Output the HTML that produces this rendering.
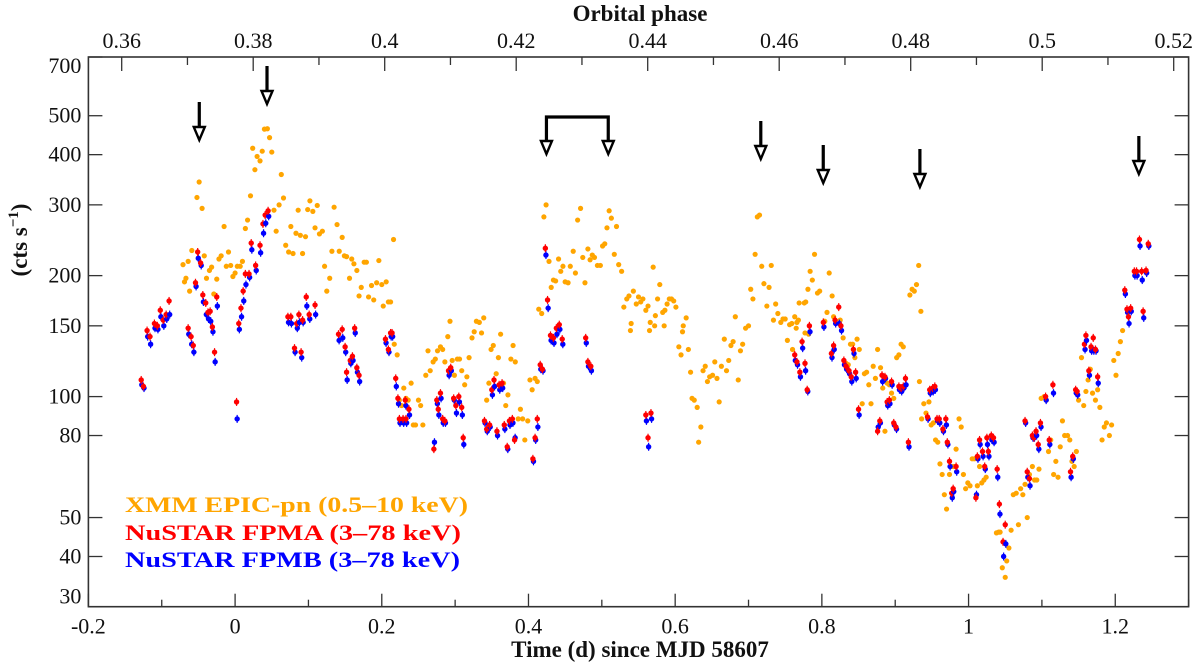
<!DOCTYPE html>
<html><head><meta charset="utf-8">
<style>
html,body{margin:0;padding:0;background:#fff;}
svg{display:block;}
text{font-family:"Liberation Serif","DejaVu Serif",serif;}
</style></head>
<body>
<svg id="chart" width="1200" height="667" viewBox="0 0 1200 667" xmlns="http://www.w3.org/2000/svg" style="position:absolute;left:0;top:0">
<g id="marks"></g>
<g id="axes"></g>
</svg>
<script>
// ---- data ----
const xmmTime = [-0.071,-0.069,-0.067,-0.064,-0.062,-0.059,-0.052,-0.049,-0.045,-0.042,-0.039,-0.035,-0.032,-0.029,-0.025,-0.022,-0.019,-0.015,-0.012,-0.009,-0.006,-0.003,0.0,0.003,0.007,0.01,0.014,0.017,0.021,0.024,0.027,0.03,0.034,0.037,0.04,0.044,0.047,0.05,0.053,0.056,0.06,0.063,0.066,0.069,0.073,0.076,0.079,0.083,0.086,0.089,0.092,0.096,0.099,0.102,0.106,0.109,0.112,0.115,0.119,0.122,0.125,0.129,0.132,0.135,0.139,0.142,0.146,0.149,0.152,0.156,0.159,0.162,0.166,0.169,0.172,0.176,0.179,0.182,0.186,0.189,0.193,0.196,0.2,0.202,0.206,0.209,0.212,0.216,
0.217,0.221,0.224,0.227,0.23,0.233,0.236,0.24,0.243,0.246,0.25,0.253,0.256,0.26,0.263,0.266,0.27,0.273,0.276,0.28,0.283,0.286,0.29,0.293,0.296,0.299,0.303,0.306,0.309,0.313,0.316,0.319,0.323,0.326,0.329,0.333,0.336,0.339,0.343,0.346,0.349,0.352,0.356,0.359,0.362,0.366,0.369,0.372,0.376,0.379,0.382,0.386,0.389,0.392,0.395,0.399,0.402,0.405,0.409,0.412,
0.414,0.418,0.421,0.424,0.428,0.431,0.434,0.437,0.441,0.444,0.447,0.45,0.454,0.457,0.461,0.464,0.467,0.471,0.474,0.477,0.481,0.484,0.487,0.49,0.494,0.498,0.501,0.504,0.507,0.51,0.513,0.517,0.52,0.523,0.527,0.53,0.534,0.537,0.54,0.543,0.547,0.55,0.553,0.556,0.56,0.563,0.566,0.57,0.573,0.576,0.579,0.583,0.586,0.589,0.592,0.595,0.598,0.601,0.611,0.615,
0.539,0.565,0.572,0.585,0.605,0.608,0.61,0.618,0.621,0.623,0.626,0.63,0.632,0.635,0.638,0.641,0.644,0.647,0.651,0.654,0.657,0.66,0.663,0.667,0.67,0.673,0.676,0.679,0.682,0.686,0.689,0.692,0.696,
0.7,0.703,0.706,0.709,0.712,0.715,0.718,0.721,0.725,0.728,0.731,0.734,0.737,0.74,0.744,0.747,0.75,0.753,0.756,0.76,0.765,0.768,0.777,0.782,0.759,0.763,0.766,0.769,0.776,0.778,0.781,0.784,0.787,0.79,0.794,0.797,0.804,0.807,0.81,0.814,0.816,
0.825,0.829,0.833,0.836,0.839,0.842,0.845,0.848,0.851,0.855,0.858,0.861,0.864,0.867,0.87,0.873,0.876,0.88,0.883,0.886,0.889,0.892,0.895,0.898,0.902,0.905,0.908,0.911,0.92,0.923,0.926,0.929,0.932,0.935,
0.933,0.936,0.939,0.942,0.946,0.949,0.952,0.955,0.958,0.961,0.964,0.967,0.97,0.974,0.977,0.98,0.983,0.987,0.99,0.993,0.996,0.999,1.002,1.005,1.008,1.012,1.015,1.018,1.021,1.024,1.038,1.041,1.043,1.046,1.05,1.052,1.055,1.058,1.061,1.065,1.068,1.071,1.074,1.077,1.08,1.083,1.087,1.09,1.093,1.096,1.099,1.103,1.106,1.109,1.112,1.116,1.119,1.122,1.125,1.128,1.131,1.135,1.138,1.141,1.144,1.147,1.15,1.154,1.157,1.16,1.163,1.166,1.169,1.173,1.176,1.179,1.182,1.185,1.188,1.192,1.195,1.198,1.201,1.204,1.207,1.21];
const xmmRate = [213,193,197,217,183,231,313,342,294,224,197,206,210,180,196,220,224,265,211,229,212,199,203,211,211,217,262,275,316,415,367,396,386,408,463,464,441,406,291,258,300,357,312,238,229,265,227,255,291,252,227,250,292,307,289,263,299,254,258,211,183,197,230,296,268,230,249,224,223,197,220,214,206,178,187,216,216,177,189,174,192,218,190,168,193,172,172,246,
135,127,98,95,105,99,98,108,85,85,98,95,85,113,130,116,122,124,130,133,131,122,141,154,123,113,124,124,116,107,112,125,140,145,154,153,144,157,98,108,131,134,114,125,143,108,95,101,124,134,122,88,93,88,78,87,110,104,111,109,
165,161,280,300,217,187,195,194,220,205,211,193,192,211,230,203,275,294,222,192,233,219,225,222,212,212,237,240,263,290,278,226,265,213,205,167,175,178,152,183,170,177,172,175,164,168,153,210,159,175,190,162,164,170,175,175,173,167,150,157,
146,146,150,150,133,127,145,131,115,99,98,94,77,84,116,119,109,112,113,122,111,97,119,139,116,123,134,137,158,110,130,135,148,
150,185,175,226,280,283,211,191,168,187,212,155,170,161,153,156,156,138,151,131,148,155,144,143,152,158,153,171,171,172,185,205,195,226,181,183,154,162,203,178,158,
155,140,121,120,135,135,125,139,131,96,114,115,107,96,119,111,131,118,105,82,108,107,102,99,125,127,135,133,179,185,183,190,212,163,
109,88,96,91,97,85,86,78,77,68,64,57,52.5,64,67,67,74,88,84,64,59,61,60,70,70,60,67,61,62,63,45.8,46,46,37.5,35.5,39,42,46.5,57,57.5,48,59,57,60.5,50,64,67,62,62,66,99,100,98,73,78,64,69,63,75,87,80,80,78,69,67,73,98,125,95,103,110,117,102,98,104,94,78,84,86,80,85,123,113,128,137,146];
const nuTime = [-0.128,-0.125,-0.12,-0.116,-0.11,-0.106,-0.102,-0.098,-0.094,-0.09,-0.064,-0.06,-0.057,-0.054,-0.051,-0.047,-0.044,-0.04,-0.037,-0.034,-0.031,-0.028,-0.025,0.002,0.005,0.008,0.011,0.014,0.019,0.022,0.028,0.034,0.038,0.041,0.045,0.072,0.076,0.081,0.084,0.087,0.09,0.092,0.097,0.101,0.109,0.141,0.146,0.15,0.152,0.157,0.16,0.163,0.166,0.169,0.205,0.209,0.212,0.214,0.219,0.222,0.224,0.229,0.232,0.233,0.237,0.271,0.275,0.277,0.28,0.283,0.286,0.291,0.294,0.298,0.301,0.305,0.309,0.311,0.34,0.343,0.347,0.35,0.353,0.357,0.36,0.364,0.367,0.371,0.374,0.378,0.381,0.406,0.409,0.412,0.416,0.419,0.423,0.426,0.43,0.434,0.438,0.442,0.446,0.478,0.481,0.485,0.56,0.563,0.567,0.763,0.766,0.77,0.773,0.777,0.78,0.783,0.802,0.813,0.816,0.818,0.823,0.826,0.83,0.833,0.837,0.84,0.843,0.846,0.85,0.876,0.879,0.882,0.886,0.889,0.892,0.895,0.898,0.901,0.905,0.908,0.911,0.914,0.918,0.944,0.947,0.951,0.954,0.957,0.96,0.965,0.969,0.971,0.974,0.977,0.979,0.983,1.01,1.012,1.015,1.019,1.022,1.025,1.027,1.031,1.034,1.039,1.042,1.047,1.05,1.077,1.08,1.083,1.087,1.089,1.092,1.095,1.098,1.105,1.11,1.115,1.139,1.142,1.146,1.148,1.158,1.16,1.164,1.167,1.17,1.173,1.176,1.213,1.216,1.218,1.221,1.226,1.229,1.233,1.236,1.238,1.242,1.245];
const fpmaRate = [110,106,146,141,152,150,164,155,160,173,148,141,134,192,229,215,179,171,162,163,149,129,177,97,152,166,183,202,202,241,212,238,269,283,290,158,158,132,152,160,129,155,177,160,169,143,147,133,115,123,126,148,118,113,139,131,144,144,111,99,88,88,98,88,93,74,98,93,102,88,87,116,118,99,95,100,94,79,87,83,85,104,110,82,107,108,85,75,87,88,78,70,79,88,120,117,234,174,142,140,148,151,139,140,122,119,90,79,91,127,122,115,137,121,104,150,153,128,134,155,167,150,123,119,116,112,131,115,93,82,87,113,112,97,98,109,86,84,106,105,106,111,77,89,104,105,106,88,88,83,88,77,69,57.5,59,67,56,71,78,73,67,79,73,80,79,66,54,43.5,48,87,65,62.5,80,79,82,76,86,100,78,107,65,71,104,103,135,142,116,133,140,131,112,184,165,158,166,205,205,246,205,163,206,240];
const fpmbRate = [107,105,141,135,148,147,158,150,156,160,143,135,129,188,221,212,172,160,156,154,145,122,168,88,147,158,173,190,198,232,206,228,255,270,281,153,152,129,148,153,125,153,168,156,160,138,140,129,110,121,123,144,115,109,136,129,141,141,106,96,86,86,95,86,90,77,96,90,99,86,86,113,116,98,91,97,90,76,86,82,84,101,106,80,104,105,83,74,85,86,79,69,78,84,117,116,225,166,138,136,143,147,135,136,119,116,87,75,88,123,120,112,132,116,103,145,149,125,131,152,152,146,120,117,114,109,128,111,90,84,86,109,111,95,96,107,85,83,104,103,105,107,75,88,102,103,104,87,86,82,85,76,67,56,58,65,57,70,76,71,66,76,71,78,77,63,51,40,43,86,63,60,79,79,80,74,84,98,76,102,63,70,102,101,131,138,113,130,130,130,108,180,162,152,163,200,200,237,195,157,203,237];
const xTicks = [-0.2,0,0.2,0.4,0.6,0.8,1,1.2];
const xTickLabels = ["-0.2","0","0.2","0.4","0.6","0.8","1","1.2"];
const phaseTicks = [0.36,0.38,0.4,0.42,0.44,0.46,0.48,0.5,0.52];
const phaseTickLabels = ["0.36","0.38","0.4","0.42","0.44","0.46","0.48","0.5","0.52"];
const yTicks = [30,40,50,80,100,150,200,300,400,500,700];
const yTickLabels = ["30","40","50","80","100","150","200","300","400","500","700"];
const arrowPhase = [0.3718,0.3821,0.4572,0.4667,0.4814,0.5147];
const bracketPhase = [0.4246,0.4340];

// ---- scales ----
const L=88.4,R=1188.6,T=57,B=606.7;
const X0=-0.2,X1=1.3,Ymin=30,Ymax=700;
const P0=0.36,P1=0.52,PX0=121.7,PX1=1173.7;
function xs(t){return L+(t-X0)/(X1-X0)*(R-L);}
function ys(v){return B-(Math.log10(v)-Math.log10(Ymin))/(Math.log10(Ymax)-Math.log10(Ymin))*(B-T);}
function ps(p){return PX0+(p-P0)/(P1-P0)*(PX1-PX0);}

const NS="http://www.w3.org/2000/svg";
const SERIF="'Liberation Serif','DejaVu Serif',serif";
function mk(tag,attrs,parent){const e=document.createElementNS(NS,tag);for(const k in attrs)e.setAttribute(k,attrs[k]);parent.appendChild(e);return e;}
const marks=document.getElementById('marks');
const axes=document.getElementById('axes');

xmmTime.forEach((t,i)=>{
  const c=mk('circle',{cx:xs(t),cy:ys(xmmRate[i]),r:2.6,fill:'#FFA500'},marks);
  
  
});
nuTime.forEach((t,i)=>{
  const yb=ys(fpmbRate[i]), ya=ys(fpmaRate[i]);
  const eb=mk('line',{x1:xs(t)+0.6,x2:xs(t)+0.6,y1:yb-4,y2:yb+4,stroke:'#0000FF','stroke-width':1.2},marks);
  
  
  const cb=mk('circle',{cx:xs(t)+0.6,cy:yb,r:2.7,fill:'#0000FF'},marks);
  
  
  const ea=mk('line',{x1:xs(t),x2:xs(t),y1:ya-4,y2:ya+4,stroke:'#FF0000','stroke-width':1.2},marks);
  
  
  const ca=mk('circle',{cx:xs(t),cy:ya,r:2.7,fill:'#FF0000'},marks);
  
  
});

const fr=mk('rect',{x:L,y:T,width:R-L,height:B-T,fill:'none',stroke:'#333','stroke-width':1.6},axes);



for(let k=-2;k<=13;k++){
  const x=xs(k/10), len=(k%2===0)?13:7;
  mk('line',{x1:x,x2:x,y1:B,y2:B-len,stroke:'#333','stroke-width':1.3},axes);
}
xTicks.forEach((t,i)=>{
  const tx=mk('text',{x:xs(t),y:B+27,'text-anchor':'middle','font-size':22,fill:'#111',style:'font-family:'+SERIF},axes);
  tx.textContent=xTickLabels[i];
  
  
});
for(let k=36;k<=52;k++){
  const x=ps(k/100), len=(k%2===0)?14:8;
  mk('line',{x1:x,x2:x,y1:T,y2:T+len,stroke:'#333','stroke-width':1.3},axes);
}
phaseTicks.forEach((p,i)=>{
  const tx=mk('text',{x:ps(p),y:T-9,'text-anchor':'middle','font-size':22,fill:'#111',style:'font-family:'+SERIF},axes);
  tx.textContent=phaseTickLabels[i];
  
  
});
yTicks.forEach((v,i)=>{
  const y=ys(v);
  mk('line',{x1:L,x2:L+14,y1:y,y2:y,stroke:'#333','stroke-width':1.3},axes);
  mk('line',{x1:R,x2:R-14,y1:y,y2:y,stroke:'#333','stroke-width':1.3},axes);
  let ly=y+7;
  if(v===700) ly=y+16;
  if(v===30) ly=y-3;
  const tx=mk('text',{x:L-7,y:ly,'text-anchor':'end','font-size':22,fill:'#111',style:'font-family:'+SERIF},axes);
  tx.textContent=yTickLabels[i];
  
  
});

function arrow(x,top,tip){
  const g=mk('g',{},axes);
  
  
  mk('line',{x1:x,x2:x,y1:top,y2:tip-12,stroke:'#000','stroke-width':3.2},g);
  mk('polygon',{points:`${x-5.5},${tip-13} ${x+5.5},${tip-13} ${x},${tip}`,fill:'#fff',stroke:'#000','stroke-width':2.4},g);
}
const arrowTops=[102,66,121,145,149,136];
arrowPhase.forEach((p,i)=>{arrow(ps(p),arrowTops[i],arrowTops[i]+38);});
(function(){
  const x1=ps(bracketPhase[0]),x2=ps(bracketPhase[1]);
  const g=mk('g',{},axes);
  
  
  mk('polyline',{points:`${x1},142 ${x1},117 ${x2},117 ${x2},142`,fill:'none',stroke:'#000','stroke-width':3.2},g);
  [x1,x2].forEach(x=>mk('polygon',{points:`${x-5.5},141 ${x+5.5},141 ${x},154`,fill:'#fff',stroke:'#000','stroke-width':2.4},g));
})();
</script>
<svg style="position:absolute;left:0;top:0" width="1200" height="667">
<text x="640" y="21" text-anchor="middle" style="font-family:'Liberation Serif','DejaVu Serif',serif" font-size="23" font-weight="bold" fill="#111">Orbital phase</text>
<text x="640" y="657" text-anchor="middle" style="font-family:'Liberation Serif','DejaVu Serif',serif" font-size="23" font-weight="bold" fill="#111">Time (d) since MJD 58607</text>
<text transform="translate(27,240) rotate(-90)" text-anchor="middle" style="font-family:'Liberation Serif','DejaVu Serif',serif" font-size="23" font-weight="bold" fill="#111">(cts s<tspan font-size="15" dy="-9">−1</tspan><tspan dy="9">)</tspan></text>
<g style="font-family:'Liberation Serif','DejaVu Serif',serif" font-size="22" font-weight="bold">
<text x="125" y="512" fill="#FFA500" textLength="343" lengthAdjust="spacingAndGlyphs">XMM EPIC-pn (0.5–10 keV)</text>
<text x="125" y="540" fill="#FF0000" textLength="336" lengthAdjust="spacingAndGlyphs">NuSTAR FPMA (3–78 keV)</text>
<text x="125" y="567" fill="#0000FF" textLength="335" lengthAdjust="spacingAndGlyphs">NuSTAR FPMB (3–78 keV)</text>
</g>
</svg>
</body></html>
